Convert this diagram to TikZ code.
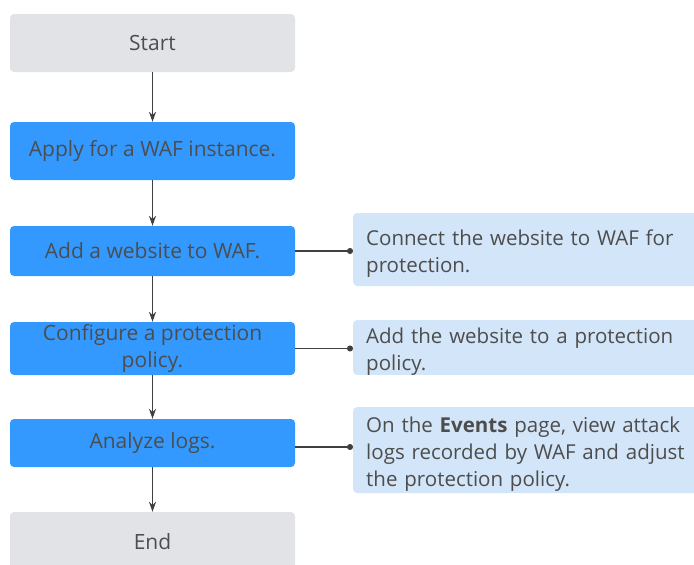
\documentclass[tikz,border=0pt]{standalone}
\usepackage{fontspec}
\setmainfont{Open Sans}
\usetikzlibrary{arrows.meta}
\definecolor{stepblue}{HTML}{3399FF}
\definecolor{endgray}{HTML}{E1E3E6}
\definecolor{notebg}{HTML}{D3E5F8}
\definecolor{txtgray}{HTML}{4D4D4D}
\definecolor{linegray}{HTML}{404040}

\begin{document}
\begin{tikzpicture}[x=1pt,y=1pt,
    every node/.style={font=\fontsize{21}{27}\selectfont, text=txtgray},
    endbox/.style={fill=endgray, rounded corners=4pt, minimum width=285pt, inner ysep=0pt, align=center},
    stepbox/.style={fill=stepblue, rounded corners=4pt, minimum width=285pt, inner ysep=0pt, align=center},
    notebox/.style={fill=notebg, rounded corners=4pt, anchor=west, text width=335pt, inner xsep=13pt, inner ysep=0pt, align=left, font=\fontsize{20.5}{27}\selectfont},
    flow/.style={draw=linegray, line width=1.1pt, -{Stealth[length=10pt,width=7pt]}},
    link/.style={draw=linegray, line width=1.1pt, -{Circle[length=6pt]}}]
    \useasboundingbox (0,0) rectangle (694,-565);
    % main steps
    \node[endbox, minimum height=58pt] (start) at (152.5,-43) {Start};
    \node[stepbox, minimum height=58pt] (apply) at (152.5,-151) {Apply for a WAF instance.};
    \node[stepbox, minimum height=50pt] (add) at (152.5,-251) {Add a website to WAF.};
    \node[stepbox, minimum height=53pt] (config) at (152.5,-348.5) {Configure a protection\\policy.};
    \node[stepbox, minimum height=48pt] (analyze) at (152.5,-443) {Analyze logs.};
    \node[endbox, minimum height=60pt] (end) at (152.5,-542) {End};
    % notes
    \node[notebox, minimum height=73pt, text height=23pt] (connect) at (353,-249.5) {Connect the website to WAF for\\protection.};
    \node[notebox, minimum height=49pt, text height=23pt] (policy) at (353,-347.5) {Add the website to a protection\\policy.};
    \node[notebox, minimum height=86pt, text height=23pt] (events) at (353,-450) {On the \textbf{Events} page, view attack\\logs recorded by WAF and adjust\\the protection policy.};
    \foreach \a/\b in {start/apply, apply/add, add/config, config/analyze, analyze/end}
      \draw[flow] (\a) -- (\b);
    \coordinate (logsout) at ([yshift=-4pt]analyze.east);
    \draw[link] (add.east) -- (connect.west |- add.east);
    \draw[link] (config.east) -- (policy.west |- config.east);
    \draw[link] (logsout) -- (events.west |- logsout);
\end{tikzpicture}
\end{document}
